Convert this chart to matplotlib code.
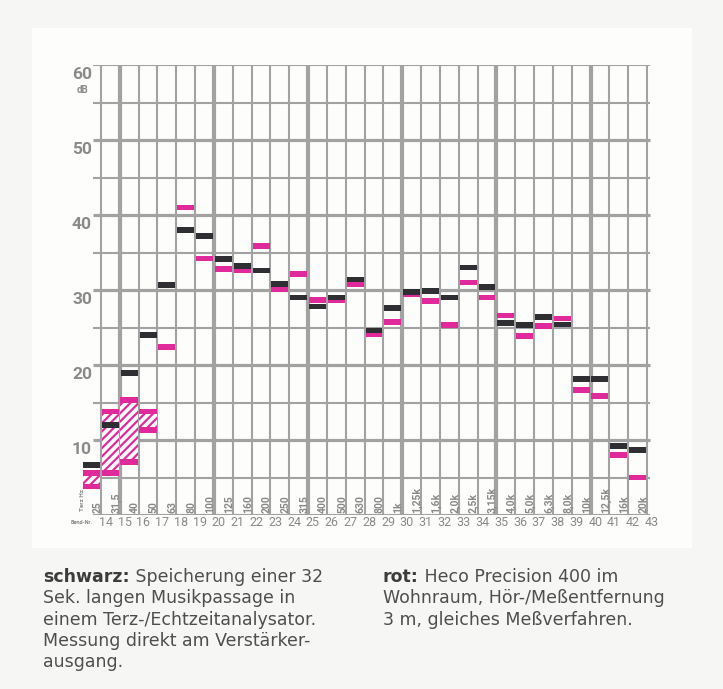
import matplotlib.pyplot as plt
from matplotlib.patches import Rectangle

plt.rcParams['hatch.linewidth'] = 1.6

# Terzbänder 14..43 mit Mittenfrequenzen
bands = list(range(14, 44))
freq_labels = ["25", "31,5", "40", "50", "63", "80", "100", "125", "160", "200",
               "250", "315", "400", "500", "630", "800", "1k", "1,25k", "1,6k", "2,0k",
               "2,5k", "3,15k", "4,0k", "5,0k", "6,3k", "8,0k", "10k", "12,5k", "16k", "20k"]

# schwarz: Pegel direkt am Verstärkerausgang (dB), Bänder 14..43
schwarz = [6.7, 12.0, 18.9, 24.0, 30.7, 38.0, 37.2, 34.1, 33.2, 32.6,
           30.8, 29.0, 27.8, 29.0, 31.4, 24.6, 27.6, 29.7, 29.9, 29.0,
           33.0, 30.4, 25.6, 25.3, 26.4, 25.4, 18.1, 18.1, 9.2, 8.7]

# rot: Pegel im Wohnraum, Bänder 18..43
rot_bands = list(range(18, 44))
rot = [22.4, 41.0, 34.2, 32.8, 32.6, 35.9, 30.1, 32.1, 28.7, 28.7,
       30.8, 24.1, 25.7, 29.5, 28.5, 25.3, 31.0, 29.0, 26.6, 23.9,
       25.2, 26.2, 16.7, 15.9, 8.0, 5.0]

# rot, Bänder 14..17: schwankender Pegel (schraffierter Bereich)
range_bands = [14, 15, 16, 17]
rot_min = [3.8, 5.6, 7.1, 11.3]
rot_max = [5.6, 13.8, 15.3, 13.8]

db_ticks = [10, 20, 30, 40, 50, 60]

GRID = '#a2a2a2'
LABEL = '#8a8a8a'
MAGENTA = '#e02a9c'
BLACK = '#2f2f33'
TEXT = '#4e4e4e'

fig = plt.figure(figsize=(7.23, 6.89), dpi=100, facecolor='#f6f6f4')
fig.patches.append(Rectangle((32 / 723, 1 - 548 / 689), 660 / 723, 520 / 689,
                             transform=fig.transFigure, facecolor='#fdfdfc',
                             edgecolor='none', zorder=-10))

ax = fig.add_axes([78.4 / 723, 174 / 689, 572.4 / 723, 450 / 689])
ax.set_xlim(-1.2, 29.2)
ax.set_ylim(0, 60)
ax.axis('off')


def col(band):
    # Spalte eines Bandes liegt links von seiner Linie
    return band - 14 - 0.5


# Raster: senkrechte Linie je Band, jede fünfte kräftig
for i, b in enumerate(bands):
    lw = 3.0 if b % 5 == 0 else 1.5
    ax.vlines(i, 0, 60, color=GRID, lw=lw, zorder=1)
for y in range(0, 61, 5):
    lw = 2.3 if (y % 10 == 0 and 0 < y < 60) else 1.5
    ax.hlines(y, -0.45, 29.15, color=GRID, lw=lw, zorder=1)

# schraffierte Bereiche (rot, Bänder 14..17)
for b, lo, hi in zip(range_bands, rot_min, rot_max):
    ax.add_patch(Rectangle((col(b) - 0.47, lo), 0.94, hi - lo, facecolor='white',
                           edgecolor=MAGENTA, hatch='////', lw=0, zorder=2))
xs = [col(b) for b in range_bands]
ax.bar(xs, 0.75, bottom=[v - 0.37 for v in rot_min], width=0.94, color=MAGENTA, zorder=3)
ax.bar(xs, 0.75, bottom=[v - 0.37 for v in rot_max], width=0.94, color=MAGENTA, zorder=3)

ax.bar([col(b) for b in rot_bands], 0.75, bottom=[v - 0.37 for v in rot],
       width=0.9, color=MAGENTA, zorder=3)
ax.bar([col(b) for b in bands], 0.75, bottom=[v - 0.37 for v in schwarz],
       width=0.9, color=BLACK, zorder=4)

# Beschriftungen
for v in db_ticks:
    ax.text(-0.48, v - 1.3, str(v), ha='right', va='center', color=LABEL,
            fontsize=12.5, fontweight='bold', family='Roboto')
ax.text(-1.0, 56.7, 'dB', ha='center', va='center', color=LABEL,
        fontsize=7, fontweight='bold', family='Roboto')

for i, lab in enumerate(freq_labels):
    ax.text(i - 0.2, 0.3, lab, rotation=90, ha='center', va='bottom',
            color=LABEL, fontsize=7.5, fontweight='bold', family='Roboto', zorder=5)
ax.text(-1.0, 0.5, 'Terz Hz', rotation=90, ha='center', va='bottom',
        color=LABEL, fontsize=4.5, fontweight='bold', family='Roboto')

for i, b in enumerate(bands):
    ax.text(i + 0.25, -0.95, str(b), ha='center', va='center', color=LABEL,
            fontsize=9, family='Roboto', clip_on=False)
ax.text(-0.45, -0.95, 'Band-Nr.', ha='right', va='center', color=LABEL,
        fontsize=4, fontweight='bold', family='Roboto', clip_on=False)

# Bildunterschrift, zweispaltig
renderer = fig.canvas.get_renderer()


def caption(x_px, y_px, bold, lines):
    y = 1 - y_px / 689
    t = fig.text(x_px / 723, y, bold, ha='left', va='center', fontsize=12.5,
                 fontweight='bold', color='#3c3c3c', family='DejaVu Sans')
    w = t.get_window_extent(renderer).width
    fig.text((x_px + w) / 723, y, ' ' + lines[0], ha='left', va='center',
             fontsize=12.5, color=TEXT, family='DejaVu Sans')
    for k, line in enumerate(lines[1:], start=1):
        fig.text(x_px / 723, 1 - (y_px + 21.3 * k) / 689, line, ha='left',
                 va='center', fontsize=12.5, color=TEXT, family='DejaVu Sans')


caption(43, 577, 'schwarz:', ['Speicherung einer 32', 'Sek. langen Musikpassage in',
                              'einem Terz-/Echtzeitanalysator.',
                              'Messung direkt am Verstärker-', 'ausgang.'])
caption(383, 577, 'rot:', ['Heco Precision 400 im', 'Wohnraum, Hör-/Meßentfernung',
                           '3 m, gleiches Meßverfahren.'])

fig.savefig('out.png', dpi=100, facecolor=fig.get_facecolor())
